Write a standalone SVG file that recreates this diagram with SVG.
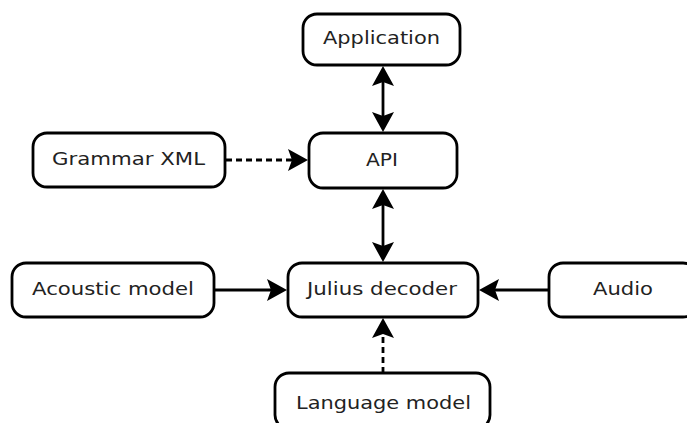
<svg xmlns="http://www.w3.org/2000/svg" width="687" height="423" viewBox="0 0 687 423">
<style>
.box{fill:#fff;stroke:#000;stroke-width:2.8}
.lbl{font-family:"DejaVu Sans",sans-serif;font-size:17px;fill:#222}
.c{fill:none;stroke:#000;stroke-width:2.8}
.d{stroke-dasharray:6,4}
</style>
<defs>
<marker id="ah" viewBox="-6 -13 24 26" markerWidth="24" markerHeight="26" refX="0" refY="0" markerUnits="userSpaceOnUse" orient="auto-start-reverse">
<path d="M-4,-11 L16,0 L-4,11 L0,0 Z" fill="#000"/>
</marker>
</defs>
<rect width="687" height="423" fill="#fff"/>
<g id="connectors">
<path class="c" d="M383,82 L383,116" marker-start="url(#ah)" marker-end="url(#ah)"/>
<path class="c" d="M383,205 L383,246" marker-start="url(#ah)" marker-end="url(#ah)"/>
<path class="c d" d="M226,160 L292,160" marker-end="url(#ah)"/>
<path class="c" d="M214,290 L271,290" marker-end="url(#ah)"/>
<path class="c" d="M549,290 L495,290" marker-end="url(#ah)"/>
<path class="c d" d="M383,373 L383,334" marker-end="url(#ah)"/>
</g>
<g id="application"><rect class="box" x="303" y="14" width="157" height="51" rx="14"/><text class="lbl" x="323" y="44" textLength="117" lengthAdjust="spacingAndGlyphs">Application</text></g>
<g id="api"><rect class="box" x="309" y="133" width="148" height="55" rx="14"/><text class="lbl" x="366" y="166" textLength="32" lengthAdjust="spacingAndGlyphs">API</text></g>
<g id="grammar"><rect class="box" x="33" y="133" width="192" height="54" rx="14"/><text class="lbl" x="52" y="165" textLength="153" lengthAdjust="spacingAndGlyphs">Grammar XML</text></g>
<g id="acoustic"><rect class="box" x="12" y="263" width="202" height="54" rx="14"/><text class="lbl" x="32" y="295" textLength="162" lengthAdjust="spacingAndGlyphs">Acoustic model</text></g>
<g id="julius"><rect class="box" x="288" y="263" width="190" height="54" rx="14"/><text class="lbl" x="307" y="295" textLength="150" lengthAdjust="spacingAndGlyphs">Julius decoder</text></g>
<g id="audio"><rect class="box" x="549" y="263" width="148" height="54" rx="14"/><text class="lbl" x="593" y="295" textLength="60" lengthAdjust="spacingAndGlyphs">Audio</text></g>
<g id="language"><rect class="box" x="275" y="373" width="215" height="56" rx="14"/><text class="lbl" x="296" y="409" textLength="175" lengthAdjust="spacingAndGlyphs">Language model</text></g>
</svg>
